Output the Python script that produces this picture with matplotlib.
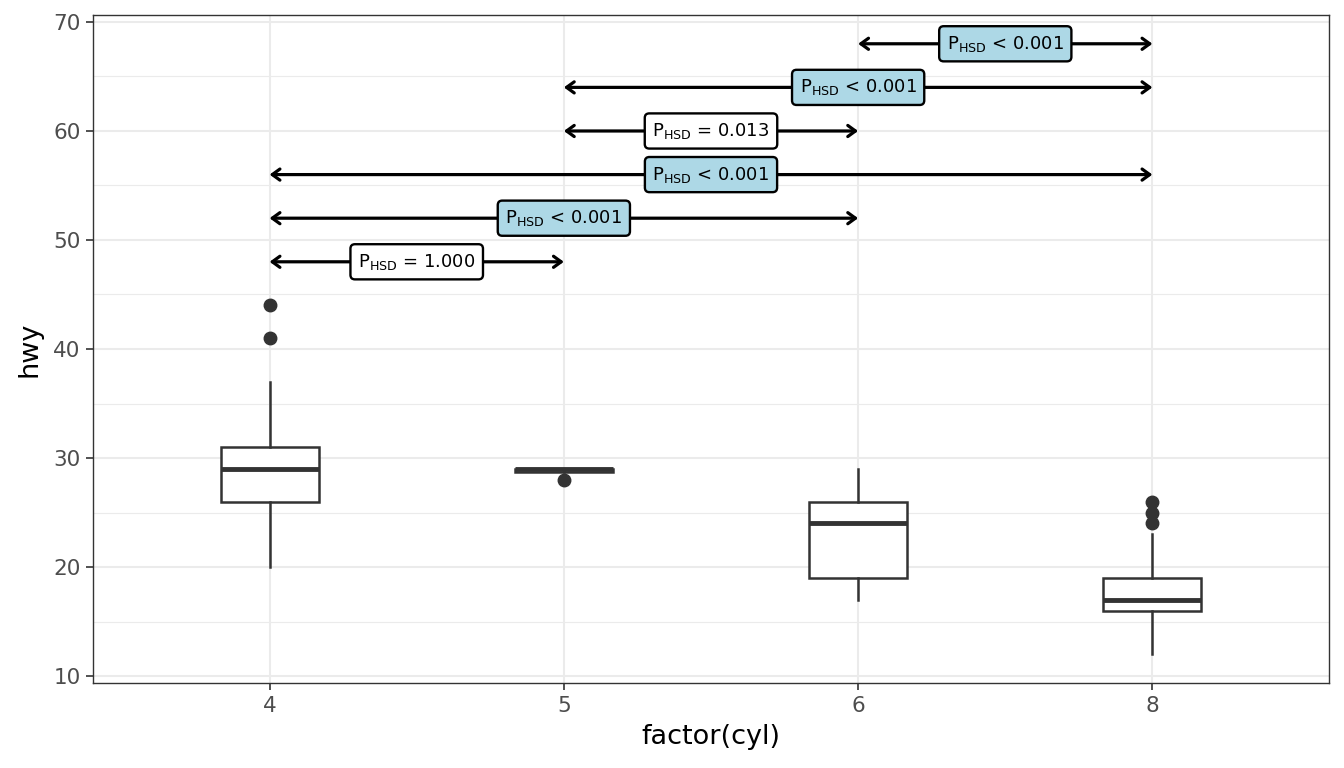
import matplotlib
matplotlib.use("Agg")
import matplotlib.pyplot as plt
from matplotlib.ticker import MultipleLocator

# box statistics of hwy per cylinder group
groups = ['4', '5', '6', '8']
whislo = [20, 29, 17, 12]
q1 = [26, 28.75, 19, 16]
med = [29, 29, 24, 17]
q3 = [31, 29, 26, 19]
whishi = [37, 29, 29, 23]
fliers = [[44, 41], [28], [], [24, 25, 26]]

# pairwise Tukey HSD comparisons
comp_from = ['6', '5', '5', '4', '4', '4']
comp_to = ['8', '8', '6', '8', '6', '5']
comp_y = [68, 64, 60, 56, 52, 48]
comp_text = ['< 0.001', '< 0.001', '= 0.013', '< 0.001', '< 0.001', '= 1.000']
comp_signif = [True, True, False, True, True, False]

dark = '#333333'

fig = plt.figure(figsize=(13.44, 7.68), dpi=100)
ax = fig.add_axes([93/1344, (768-683)/768, (1329-93)/1344, (683-15)/768])

pos = list(range(1, len(groups) + 1))
stats = []
for i in range(len(groups)):
    stats.append(dict(whislo=whislo[i], q1=q1[i], med=med[i], q3=q3[i],
                      whishi=whishi[i], fliers=fliers[i]))

ax.bxp(stats, positions=pos, widths=0.333, showcaps=False, patch_artist=True,
       boxprops=dict(facecolor='white', edgecolor=dark, linewidth=1.8),
       whiskerprops=dict(color=dark, linewidth=1.8),
       medianprops=dict(color=dark, linewidth=3.5, solid_capstyle='butt'),
       flierprops=dict(marker='o', markerfacecolor=dark, markeredgecolor=dark,
                       markersize=9),
       zorder=3)

idx = {g: p for g, p in zip(groups, pos)}
for a, b, y, t, s in zip(comp_from, comp_to, comp_y, comp_text, comp_signif):
    x1, x2 = idx[a], idx[b]
    ax.annotate('', xy=(x2, y), xytext=(x1, y),
                arrowprops=dict(arrowstyle='<->,head_length=0.55,head_width=0.4',
                                lw=2.3, color='black', shrinkA=0, shrinkB=0),
                zorder=4)
    ax.text((x1 + x2) / 2, y, r'$\mathregular{P_{HSD}}$ ' + t,
            ha='center', va='center', fontsize=13, color='black', zorder=5,
            bbox=dict(boxstyle='round,pad=0.42,rounding_size=0.25',
                      fc='#ADD8E6' if s else 'white', ec='black', lw=1.7))

ax.set_xlim(0.4, 4.6)
ax.set_ylim(9.36, 70.64)
ax.set_xticks(pos)
ax.set_xticklabels(groups)
ax.yaxis.set_major_locator(MultipleLocator(10))
ax.yaxis.set_minor_locator(MultipleLocator(5))

ax.grid(True, which='major', color='#EBEBEB', lw=1.5, zorder=0)
ax.grid(True, which='minor', axis='y', color='#EBEBEB', lw=0.8, zorder=0)
ax.set_axisbelow(True)

for sp in ax.spines.values():
    sp.set_color(dark)
    sp.set_linewidth(1.0)

ax.tick_params(which='major', length=5, width=1.2, color=dark,
               labelcolor='#4D4D4D', labelsize=15.5, pad=4)
ax.tick_params(which='minor', length=0)

ax.set_xlabel('factor(cyl)', fontsize=19.5, color='black', labelpad=6)
ax.set_ylabel('hwy', fontsize=19.5, color='black', labelpad=8)

fig.savefig('out.png', dpi=100)
